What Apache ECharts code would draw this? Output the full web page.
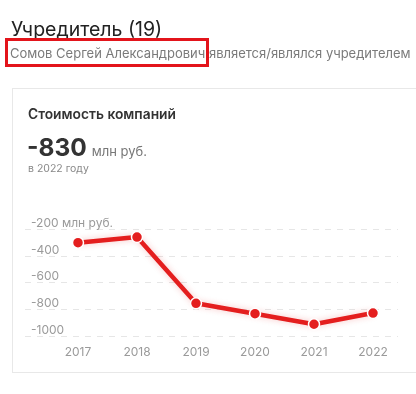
<!DOCTYPE html>
<html>
<head>
<meta charset="utf-8">
<script src="https://cdn.jsdelivr.net/npm/echarts@6/dist/echarts.min.js"></script>
<style>
  html, body { margin: 0; padding: 0; background: #fff; width: 416px; height: 394px; overflow: hidden; font-family: Inter, "Open Sans", "Noto Sans", sans-serif; }
  #chart { position: absolute; left: 0; top: 0; width: 416px; height: 394px; }
  .abs { position: absolute; white-space: nowrap; }
  #card { position: absolute; left: 12px; top: 88px; width: 420px; height: 285px; border: 1px solid #e8e8e8; box-sizing: border-box; }
  #hl { position: absolute; left: 5px; top: 38px; width: 204px; height: 29px; border: 3px solid #e3141b; box-sizing: border-box; }
</style>
</head>
<body>
<div id="card"></div>
<div id="chart"></div>
<div class="abs" style="left:11px; top:17px; font-size:19.5px; color:#222;">Учредитель (19)</div>
<div class="abs" style="left:10px; top:45px; font-size:13px; color:#7a7a7a;">Сомов Сергей Александрович является/являлся учредителем</div>
<div id="hl"></div>
<div class="abs" style="left:28px; top:106px; font-size:13.8px; font-weight:600; color:#333;">Стоимость компаний</div>
<div class="abs" style="left:27px; top:132px; color:#333;"><span style="font-size:24.5px; font-weight:700;">-830</span><span style="font-size:13px; color:#777; margin-left:5px;">млн руб.</span></div>
<div class="abs" style="left:28px; top:162px; font-size:10.5px; color:#888;">в 2022 году</div>
<script>
const years = ['2017', '2018', '2019', '2020', '2021', '2022'];
const values = [-300, -258, -755, -833, -912, -828];
const yTicks = { min: -1000, max: -200, interval: 200 };
const unitLabel = 'млн руб.';

const chart = echarts.init(document.getElementById('chart'), null, { renderer: 'canvas' });
const red = '#e41e1e';
chart.setOption({
  animation: false,
  grid: [
    { left: 48.5, right: 13.5, top: 229.3, bottom: 58 },
    { left: 25, right: 18, top: 229.3, bottom: 58 }
  ],
  xAxis: [
    {
      gridIndex: 0, type: 'category', data: years, boundaryGap: true,
      axisLine: { show: false }, axisTick: { show: false },
      axisLabel: { color: '#9a9a9a', fontSize: 12, margin: 10, fontFamily: 'Inter, "Open Sans", sans-serif' }
    },
    { gridIndex: 1, type: 'category', data: years, show: false }
  ],
  yAxis: [
    { gridIndex: 0, type: 'value', min: yTicks.min, max: yTicks.max, interval: yTicks.interval, show: false, splitLine: { show: false } },
    {
      gridIndex: 1, type: 'value', min: yTicks.min, max: yTicks.max, interval: yTicks.interval,
      axisLine: { show: false }, axisTick: { show: false },
      splitLine: { show: true, lineStyle: { color: '#e6e6e6', type: [6, 6], width: 1 } },
      axisLabel: {
        inside: true, margin: 6, verticalAlign: 'bottom', color: '#9a9a9a', fontSize: 12,
        fontFamily: 'Inter, "Open Sans", sans-serif',
        formatter: v => v === yTicks.max ? v + ' ' + unitLabel : String(v)
      }
    }
  ],
  series: [{
    type: 'line', xAxisIndex: 0, yAxisIndex: 0, data: values,
    symbol: 'circle', symbolSize: 11,
    lineStyle: { color: red, width: 4.5, shadowColor: 'rgba(228,30,30,0.25)', shadowBlur: 6 },
    itemStyle: { color: red, borderColor: '#fff', borderWidth: 1.5 }
  }]
});
</script>
</body>
</html>
